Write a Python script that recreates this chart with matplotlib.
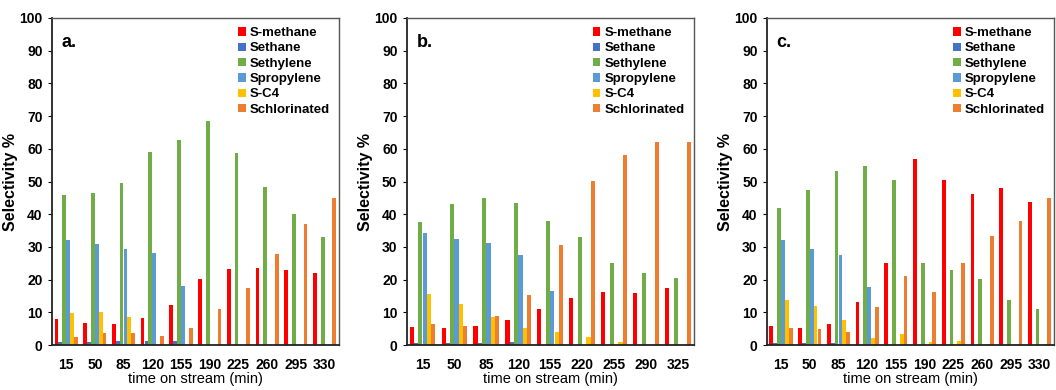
import matplotlib
matplotlib.use("Agg")
import matplotlib.pyplot as plt
import numpy as np

plt.rcParams['font.family'] = ['Liberation Sans', 'DejaVu Sans']

series = ["S-methane", "Sethane", "Sethylene", "Spropylene", "S-C4", "Schlorinated"]
colors = ["#FF0000", "#4472C4", "#70AD47", "#5B9BD5", "#FFC000", "#ED7D31"]

# panel a
times_a = ["15", "50", "85", "120", "155", "190", "225", "260", "295", "330"]
methane_a = [7.9, 6.8, 6.4, 8.2, 12.4, 20.3, 23.4, 23.7, 23.0, 21.9]
ethane_a = [1.0, 1.0, 1.2, 1.4, 1.3, 0, 0, 0, 0, 0]
ethylene_a = [45.9, 46.6, 49.7, 58.9, 62.6, 68.5, 58.8, 48.4, 40.0, 33.1]
propylene_a = [32.1, 30.9, 29.4, 28.2, 18.1, 0, 0, 0, 0, 0]
c4_a = [9.8, 10.2, 8.6, 0, 0, 0, 0, 0, 0, 0]
chlor_a = [2.5, 3.7, 3.8, 2.8, 5.2, 11.2, 17.6, 27.8, 37.1, 44.9]

# panel b
times_b = ["15", "50", "85", "120", "155", "220", "255", "290", "325"]
methane_b = [5.5, 5.3, 5.7, 7.8, 11.2, 14.4, 16.1, 15.9, 17.5]
ethane_b = [0.6, 0.7, 0.8, 0.9, 0, 0, 0, 0, 0]
ethylene_b = [37.5, 43.0, 44.9, 43.4, 38.0, 33.1, 25.0, 22.0, 20.5]
propylene_b = [34.2, 32.4, 31.3, 27.5, 16.5, 0, 0, 0, 0]
c4_b = [15.6, 12.6, 8.6, 5.2, 4.0, 2.4, 0.9, 0, 0]
chlor_b = [6.6, 6.0, 8.8, 15.3, 30.5, 50.2, 58.2, 62.2, 62.2]

# panel c
times_c = ["15", "50", "85", "120", "155", "190", "225", "260", "295", "330"]
methane_c = [5.7, 5.1, 6.5, 13.2, 25.0, 57.0, 50.4, 46.1, 47.9, 43.7]
ethane_c = [0.7, 0.7, 0.7, 0, 0, 0, 0, 0, 0, 0]
ethylene_c = [41.9, 47.3, 53.1, 54.9, 50.4, 25.2, 23.0, 20.2, 13.7, 11.2]
propylene_c = [32.2, 29.5, 27.4, 17.7, 0, 0, 0, 0, 0, 0]
c4_c = [13.7, 12.0, 7.8, 2.3, 3.4, 1.1, 1.3, 0.5, 0.4, 0.2]
chlor_c = [5.3, 4.9, 3.9, 11.6, 21.0, 16.2, 25.0, 33.5, 37.8, 45.0]

panels = [
    ("a.", times_a, [methane_a, ethane_a, ethylene_a, propylene_a, c4_a, chlor_a]),
    ("b.", times_b, [methane_b, ethane_b, ethylene_b, propylene_b, c4_b, chlor_b]),
    ("c.", times_c, [methane_c, ethane_c, ethylene_c, propylene_c, c4_c, chlor_c]),
]
lefts = [0.049, 0.385, 0.726]
width_ax = 0.272

fig = plt.figure(figsize=(10.56, 3.9), dpi=100)
bw = 0.135

for (tag, times, vals), left in zip(panels, lefts):
    ax = fig.add_axes([left, 0.115, width_ax, 0.839])
    x = np.arange(len(times))
    for i, (name, col, v) in enumerate(zip(series, colors, vals)):
        ax.bar(x + (i - 2.5) * bw, v, bw * 0.97, color=col, label=name)
    ax.set_xlim(-0.5, len(times) - 0.5)
    ax.set_ylim(0, 100)
    ax.set_yticks(range(0, 101, 10))
    ax.set_xticks(x)
    ax.set_xticklabels(times)
    ax.tick_params(axis='x', length=0, labelsize=10, pad=9)
    ax.tick_params(axis='y', length=3, labelsize=10, direction='out')
    for lab in ax.get_xticklabels() + ax.get_yticklabels():
        lab.set_fontweight('bold')
    for s in ['left', 'bottom']:
        ax.spines[s].set_linewidth(1.3)
        ax.spines[s].set_color('#222222')
    for s in ['top', 'right']:
        ax.spines[s].set_linewidth(1.0)
        ax.spines[s].set_color('#555555')
    ax.set_xlabel("time on stream (min)", fontsize=10.5, labelpad=0)
    ax.set_ylabel("Selectivity %", fontsize=11.5, fontweight='bold')
    ax.yaxis.set_label_coords(-0.118, 0.5)
    ax.text(0.035, 0.925, tag, transform=ax.transAxes, fontsize=13,
            fontweight='bold', va='center')
    ax.legend(loc='upper right', frameon=False,
              handlelength=0.6, handleheight=0.6, handletextpad=0.3,
              labelspacing=0.25, borderaxespad=0.3,
              prop={'weight': 'bold', 'size': 9.5})

fig.savefig("out.png", dpi=100)
